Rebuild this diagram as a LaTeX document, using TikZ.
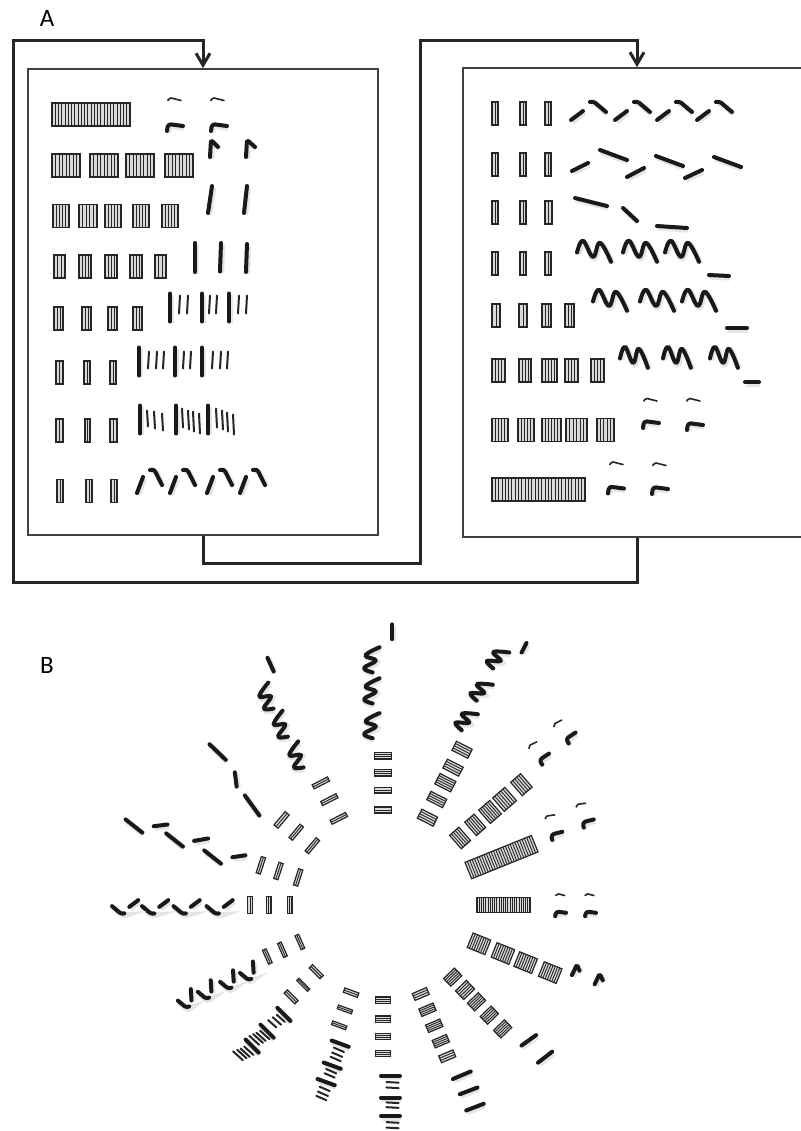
\documentclass[tikz,border=0pt]{standalone}
\usepackage{fontspec}
\newfontfamily\labelfont{Carlito}
\usetikzlibrary{arrows.meta}

\tikzset{
  sheet/.style={draw=black!75, line width=0.8pt, inner sep=0pt},
  link/.style={line width=1.5pt, black!85, -{Straight Barb[length=6pt,width=7pt]}},
  bead/.style={draw=black!85, line width=0.6pt, fill=black!15},
  beadin/.style={black!85, line width=0.45pt},
  thickbar/.style={line width=2pt, line cap=round, line join=round, black!90,
    preaction={draw=black!10, line width=3pt, transform canvas={shift={(0.6pt,-0.8pt)}}}},
  thinbar/.style={line width=1pt, line cap=round, black!85},
  tildeline/.style={line width=0.8pt, line cap=round, black!85},
  panel/.style={font=\labelfont\fontsize{12.5}{15}\selectfont, inner sep=0pt},
}

% one bead: left edge, width
\newcommand\bead[2]{%
  \draw[bead] (#1,-11.5) rectangle ++(#2,23);
  \pgfmathtruncatemacro\nlines{max(1,round(#2/3.3)-1)}%
  \foreach \k in {1,...,\nlines}
    \draw[beadin] ({#1+\k*#2/(\nlines+1)},-11.5) -- ++(0,23);
}
\newcommand\hookr[2]{\draw[thickbar,rounded corners=1.5pt,shift={(#1,#2)}] (0,0) -- (1,-7) -- (16,-5);}
\newcommand\tild[2]{\draw[tildeline,rounded corners=1pt,shift={(#1,#2)}] (0,2) -- (1,-1) -- (13,2);}
\newcommand\wavem[3]{\draw[thickbar,shift={(#1,#2)},xscale=#3] plot[smooth,tension=0.7] coordinates {(0,0) (6,-11.7) (16,4.3) (23,-9.7) (34,9.3)};}

% rows of the left sheet
\newcommand\rowLi{%
  \bead{0}{78}
  \tild{116}{-16} \tild{159}{-16}
  \hookr{115}{16.5} \hookr{159}{16.5}
}
\newcommand\rowLii{%
  \bead{0}{28}\bead{38}{28}\bead{74}{28}\bead{113}{28}
  \draw[thickbar,rounded corners=1pt] (158,-8.5) -- (159,-25.5) -- (166,-18.5);
  \draw[thickbar,rounded corners=1pt] (194,-8.5) -- (195,-25.5) -- (203,-18.5);
}
\newcommand\rowLiii{%
  \bead{0}{16}\bead{26}{18}\bead{52}{16}\bead{80}{16}\bead{109}{16}
  \draw[thickbar] (159,-30) -- (155,-3);
  \draw[thickbar] (194,-30) -- (191,-3);
}
\newcommand\rowLiv{%
  \bead{0}{11}\bead{25}{12}\bead{51}{12}\bead{76}{12}\bead{101}{11}
  \draw[thickbar] (141,-23.5) -- (141,5.5);
  \draw[thickbar] (167,-23.5) -- (166,5);
  \draw[thickbar] (193,-22.5) -- (192,5.5);
}
\newcommand\rowLv{%
  \bead{0}{9}\bead{28}{9}\bead{54}{9}\bead{79}{9}
  \foreach \u in {116,148,175} \draw[thickbar] (\u,-25) -- (\u,3);
  \foreach \u in {125,133,155,162,184,192} \draw[thinbar] ({\u+1},-23) -- (\u,-5);
}
\newcommand\rowLvi{%
  \bead{0}{7}\bead{28}{6}\bead{54}{6}
  \foreach \u in {83,119,146} \draw[thickbar] (\u,-25) -- (\u,3);
  \foreach \u in {92,100,107,127,134,156,164,171} \draw[thinbar] ({\u+1},-21) -- (\u,-4);
}
\newcommand\rowLvii{%
  \bead{0}{7}\bead{29}{5}\bead{54}{7}
  \foreach \u in {84,120,152} \draw[thickbar] (\u,-25) -- (\u,3);
  \foreach \u/\ya/\yb in {92/-20/-4, 99/-19/-2, 107/-17/0, 127/-22/-3, 133/-20/-1, 138/-19/1,
      144/-17/3, 161/-22/-3, 167/-20/-1, 172/-18/1, 178/-16/4}
    \draw[thinbar] ({\u-1},\ya) -- (\u,\yb);
}
\newcommand\rowLviii{%
  \bead{0}{6}\bead{29}{6}\bead{54}{6}
  \foreach \o in {0,33,70,103}{
    \draw[thickbar] ({80+\o},2) -- ({86+\o},-14);
    \draw[thickbar,rounded corners=1.5pt] ({93+\o},-21) -- ({97+\o},-22) -- ({105+\o},-6);
  }
}
% rows of the right sheet
\newcommand\rowRi{%
  \bead{0}{6}\bead{28}{6}\bead{53}{6}
  \foreach \o in {0,44,86,126}{
    \draw[thickbar] ({79+\o},6.5) -- ({91+\o},-2.5);
    \draw[thickbar,rounded corners=1.5pt] ({98+\o},-11.5) -- ({101+\o},-12.5) -- ({114+\o},-1.5);
  }
}
\newcommand\rowRii{%
  \bead{0}{6}\bead{28}{6}\bead{53}{6}
  \draw[thickbar] (80,6.5) -- (96,-1.5);
  \draw[thickbar] (108,-14.5) -- (135,-4.5);
  \draw[thickbar] (135,12.5) -- (152,3.5);
  \draw[thickbar] (164,-8.5) -- (191,1.5);
  \draw[thickbar] (193,13.5) -- (210,5.5);
  \draw[thickbar] (222,-7.5) -- (249,2.5);
}
\newcommand\rowRiii{%
  \bead{0}{6}\bead{28}{6}\bead{53}{7}
  \draw[thickbar] (83,-14.5) -- (115,-6.5);
  \draw[thickbar] (131,-4.5) -- (145,8.5);
  \draw[thickbar] (165,13.5) -- (195,15.5);
}
\newcommand\rowRiv{%
  \bead{0}{6}\bead{28}{6}\bead{53}{6}
  \wavem{85}{-11}{1}\wavem{131}{-11}{1}\wavem{173}{-11}{1}
  \draw[thickbar] (217,11.5) -- (237,12.5);
}
\newcommand\rowRv{%
  \bead{0}{8}\bead{27}{8}\bead{50}{9}\bead{73}{9}
  \wavem{101}{-14}{1}\wavem{148}{-14}{1}\wavem{190}{-14}{1}
  \draw[thickbar] (235,12.5) -- (255,12.5);
}
\newcommand\rowRvi{%
  \bead{0}{13}\bead{27}{12}\bead{50}{15}\bead{73}{13}\bead{99}{13}
  \wavem{128}{-12}{0.82}\wavem{171}{-12}{0.82}\wavem{218}{-12}{0.82}
  \draw[thickbar] (253,11.5) -- (267,11.5);
}
\newcommand\rowRvii{%
  \bead{0}{16}\bead{26}{16}\bead{50}{19}\bead{74}{21}\bead{105}{17}
  \tild{152}{-31} \tild{195}{-31}
  \hookr{151}{-2} \hookr{195}{0}
}
\newcommand\rowRviii{%
  \bead{0}{93}
  \tild{118}{-27} \tild{161}{-26}
  \hookr{116}{4} \hookr{160}{4.5}
}

\begin{document}
\begin{tikzpicture}[x=0.5pt,y=-0.5pt]
  \useasboundingbox (0,0) rectangle (801,1131);

  %%%%% PANEL A %%%%%
  \node[panel] (labA) at (47,18) {A};
  \node[sheet, minimum width=175pt, minimum height=233pt] (lsheet) at (203,302) {};
  \node[sheet, minimum width=174pt, minimum height=234.5pt] (rsheet) at (637,302.5) {};
  \coordinate (outer) at (13,40);
  \coordinate (inner) at (420,40);
  \draw[link] (rsheet.south) -- ++(0,45) -| (outer) -| (lsheet.north);
  \draw[link] (lsheet.south) -- ++(0,28) -| (inner) -| (rsheet.north);

  \foreach \px/\py/\rw in {52/114.5/Li, 52/165.5/Lii, 53/216/Liii, 54/266.5/Liv,
      54/318.5/Lv, 56/372.5/Lvi, 56/430.5/Lvii, 57/491/Lviii,
      492/113.5/Ri, 492/164.5/Rii, 492/212.5/Riii, 492/263.5/Riv,
      492/315.5/Rv, 492/370.5/Rvi, 492/430/Rvii, 492/489.5/Rviii}
    {\begin{scope}[shift={(\px,\py)}]\csname row\rw\endcsname\end{scope}}

  %%%%% PANEL B %%%%%
  \node[panel] (labB) at (47,665) {B};
  \coordinate (hub) at (383,905);
  \foreach \ang/\sc/\rr/\rw in {0/0.68/94/Li, -22/0.68/94/Lii, -46/0.66/95/Liii,
      -67/0.67/93/Liv, -90/0.68/92/Lv, -110/0.65/91/Lvi, -135/0.66/92/Lvii,
      -156/0.66/89/Lviii, 180/0.75/91/Ri, 162/0.74/87/Rii, 140/0.75/90/Riii,
      117/0.75/95/Riv, 90/0.74/92/Rv, 63/0.77/93/Rvi, 41/0.77/96/Rvii, 22/0.77/92/Rviii}
    {\begin{scope}[shift={(hub)}, rotate=\ang, shift={(\rr,0)}, scale=\sc]
      \csname row\rw\endcsname
    \end{scope}}
\end{tikzpicture}
\end{document}
